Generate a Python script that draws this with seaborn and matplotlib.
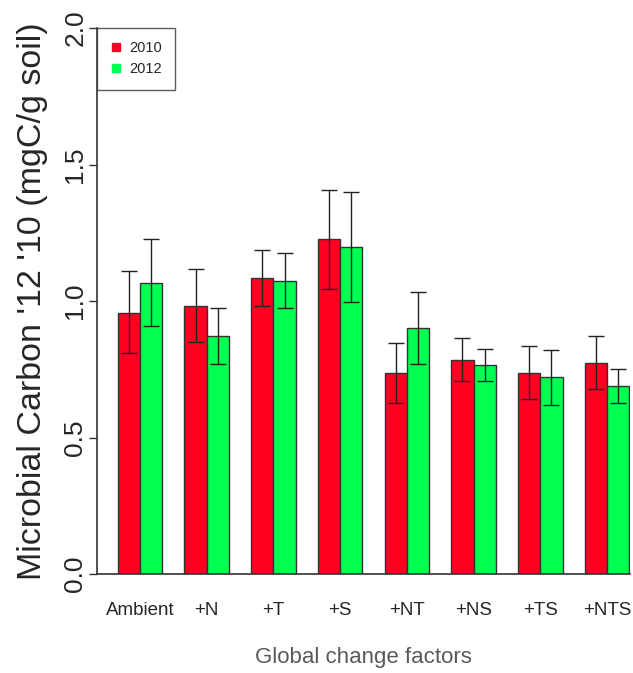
import numpy as np
import pandas as pd
import seaborn as sns
import matplotlib
matplotlib.use("Agg")
import matplotlib.pyplot as plt
from matplotlib.lines import Line2D

categories = ["Ambient", "+N", "+T", "+S", "+NT", "+NS", "+TS", "+NTS"]
years = ["2010", "2012"]
mean_2010 = [0.957, 0.983, 1.084, 1.226, 0.736, 0.783, 0.738, 0.774]
mean_2012 = [1.067, 0.872, 1.074, 1.197, 0.901, 0.764, 0.720, 0.689]
upper_2010 = [1.109, 1.116, 1.186, 1.405, 0.845, 0.863, 0.834, 0.871]
lower_2010 = [0.809, 0.850, 0.983, 1.045, 0.628, 0.706, 0.641, 0.678]
upper_2012 = [1.226, 0.973, 1.174, 1.400, 1.033, 0.824, 0.822, 0.752]
lower_2012 = [0.910, 0.771, 0.976, 0.995, 0.770, 0.706, 0.618, 0.627]
yticks = [0.0, 0.5, 1.0, 1.5, 2.0]

colors = {"2010": "#ff0022", "2012": "#00ff50"}

df = pd.DataFrame({
    "factor": categories * 2,
    "year": ["2010"] * len(categories) + ["2012"] * len(categories),
    "value": mean_2010 + mean_2012,
    "upper": upper_2010 + upper_2012,
    "lower": lower_2010 + lower_2012,
})

sns.set_style("white")
plt.rcParams["font.family"] = ["Liberation Sans", "DejaVu Sans"]

fig = plt.figure(figsize=(6.33, 6.73), dpi=100)
ax = fig.add_axes([97 / 633, 99 / 673, (630 - 97) / 633, (574 - 28) / 673])

sns.barplot(data=df, x="factor", y="value", hue="year", order=categories,
            hue_order=years, palette=colors, errorbar=None, width=0.667,
            gap=0, edgecolor="#333333", linewidth=1.0, saturation=1,
            legend=False, ax=ax)

# error bars from the bar patches
bars = [p for p in ax.patches if p.get_height() > 0]
for i, yr in enumerate(years):
    sub = df[df["year"] == yr].set_index("factor").loc[categories]
    for j, cat in enumerate(categories):
        p = bars[i * len(categories) + j]
        cx = p.get_x() + p.get_width() / 2
        ax.errorbar([cx], [sub.loc[cat, "value"]],
                    yerr=[[sub.loc[cat, "value"] - sub.loc[cat, "lower"]],
                          [sub.loc[cat, "upper"] - sub.loc[cat, "value"]]],
                    fmt="none", ecolor="#222222", elinewidth=1.0,
                    capsize=6, capthick=1.0, zorder=5)

ax.set_ylim(0, 2.0)
ax.set_xlim(-0.645, 7.345)
ax.set_yticks(yticks)
ax.set_yticklabels([f"{t:.1f}" for t in yticks], rotation=90, va="center",
                   fontsize=19)
ax.tick_params(axis="y", length=6, width=1, color="#333333", pad=1, left=True)
ax.tick_params(axis="x", length=0, pad=20, labelsize=13.5)

for s in ["top", "right"]:
    ax.spines[s].set_visible(False)
for s in ["left", "bottom"]:
    ax.spines[s].set_color("#333333")
    ax.spines[s].set_linewidth(1.2)

ax.set_ylabel("Microbial Carbon '12 '10 (mgC/g soil)", fontsize=24.5,
              labelpad=11)
ax.set_xlabel("Global change factors", fontsize=16, color="#5a5a5a",
              labelpad=20)

handles = [Line2D([0], [0], marker="s", linestyle="none", markersize=6,
                  markerfacecolor=colors[y], markeredgecolor=colors[y])
           for y in years]
leg = ax.legend(handles, years, loc="upper left", bbox_to_anchor=(0, 1.0),
                frameon=True, fontsize=10.5, handlelength=0.8,
                handletextpad=0.5, borderpad=0.9, labelspacing=0.5,
                fancybox=False, borderaxespad=0)
leg.get_frame().set_edgecolor("#333333")
leg.get_frame().set_linewidth(1.0)

fig.savefig("out.png", dpi=100)
